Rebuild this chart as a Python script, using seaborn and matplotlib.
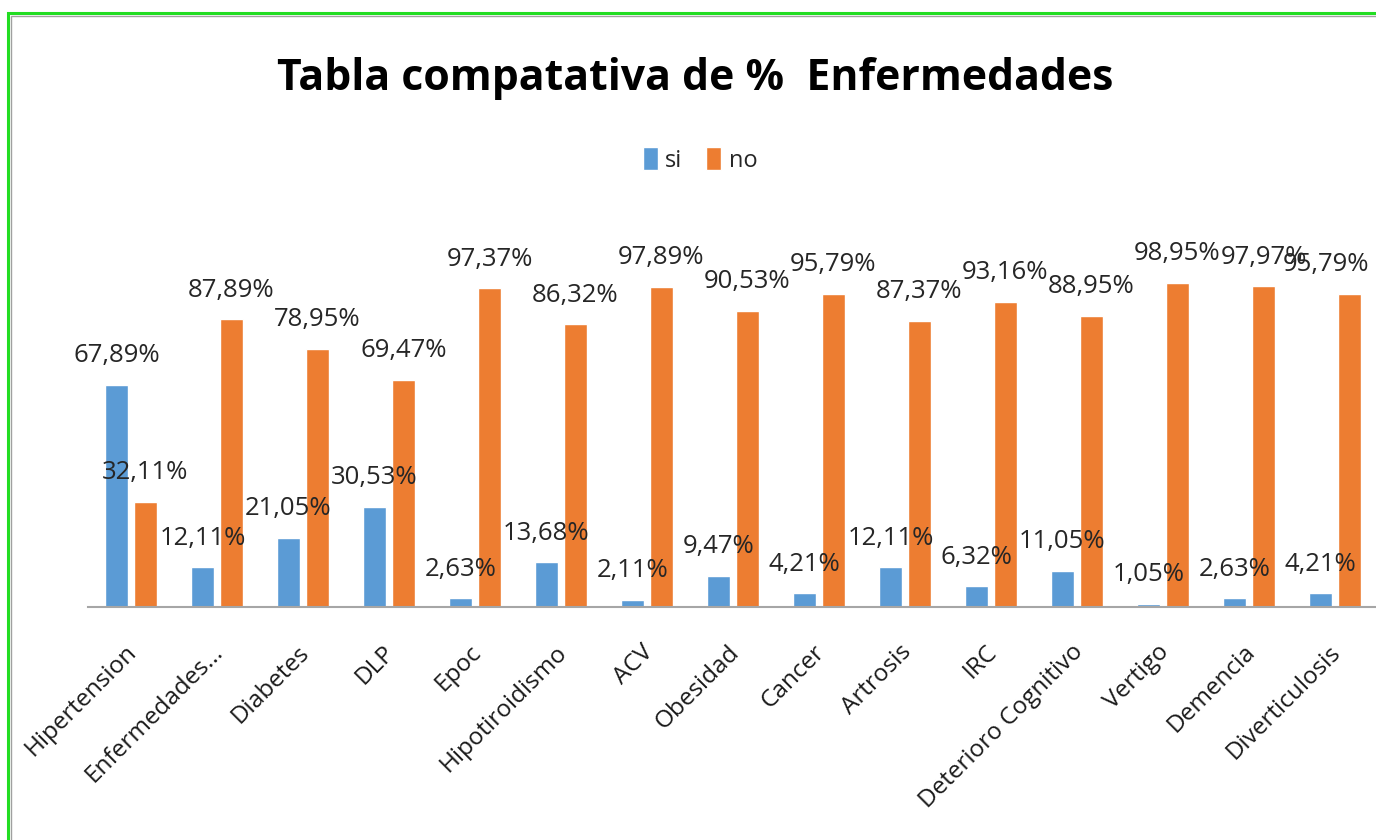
import pandas as pd
import matplotlib
matplotlib.use("Agg")
import matplotlib.pyplot as plt
import seaborn as sns
from matplotlib.patches import Rectangle, Patch
from matplotlib.transforms import ScaledTranslation

# datos del grafico (porcentajes)
enfermedades = [
    "Hipertension", "Enfermedades...", "Diabetes", "DLP", "Epoc",
    "Hipotiroidismo", "ACV", "Obesidad", "Cancer", "Artrosis", "IRC",
    "Deterioro Cognitivo", "Vertigo", "Demencia", "Diverticulosis",
]
si = [67.89, 12.11, 21.05, 30.53, 2.63, 13.68, 2.11, 9.47, 4.21, 12.11,
      6.32, 11.05, 1.05, 2.63, 4.21]
no = [32.11, 87.89, 78.95, 69.47, 97.37, 86.32, 97.89, 90.53, 95.79, 87.37,
      93.16, 88.95, 98.95, 97.97, 95.79]
series = ["si", "no"]
colores = ["#5B9BD5", "#ED7D31"]

df = pd.DataFrame({
    "Enfermedad": enfermedades * 2,
    "Serie": ["si"] * len(si) + ["no"] * len(no),
    "Valor": si + no,
})

sns.set_theme(style="white")
plt.rcParams["font.family"] = ["Open Sans", "DejaVu Sans"]

fig = plt.figure(figsize=(13.76, 8.4), dpi=100)
W, H = 1376, 840

# borde verde + linea gris interior
fig.patches.append(Rectangle((8 / W, -0.1), 1.2, 1 - 13 / H + 0.1,
                             transform=fig.transFigure, fill=False,
                             edgecolor="#22DD22", linewidth=2.2))
fig.patches.append(Rectangle((11.5 / W, -0.1), 1.2, 1 - 16 / H + 0.1,
                             transform=fig.transFigure, fill=False,
                             edgecolor="#A0A0A0", linewidth=1.0))

ax = fig.add_axes([88 / W, 233 / H, 1290 / W, 360 / H])
sns.barplot(data=df, x="Enfermedad", y="Valor", hue="Serie",
            hue_order=series, palette=colores, width=0.674, gap=0.2,
            saturation=1, ax=ax, legend=False)

ax.set_ylim(0, 110)
ax.set_xlim(-0.5, len(enfermedades) - 0.5)

for i, cont in enumerate(ax.containers):
    etiquetas = [f"{b.get_height():.2f}%".replace(".", ",") for b in cont]
    anns = ax.bar_label(cont, labels=etiquetas, padding=12, fontsize=18.5,
                        color="#262626")
    if i == 1:
        # la ultima etiqueta se desplaza para caber en el grafico
        anns[-1].xyann = (-17, anns[-1].xyann[1])

ax.set_xlabel("")
ax.set_ylabel("")
ax.set_yticks([])
ax.tick_params(axis="x", length=0, pad=24)
plt.setp(ax.get_xticklabels(), rotation=45, ha="right",
         rotation_mode="anchor", fontsize=17.5, color="#1a1a1a")
for lab in ax.get_xticklabels():
    lab.set_transform(lab.get_transform()
                      + ScaledTranslation(-6 / 100, 0, fig.dpi_scale_trans))
for s in ["top", "right", "left"]:
    ax.spines[s].set_visible(False)
ax.spines["bottom"].set_color("#A6A6A6")
ax.spines["bottom"].set_linewidth(1.5)

# leyenda
handles = [Patch(facecolor=c, label=s) for c, s in zip(colores, series)]
fig.legend(handles=handles, loc="center", bbox_to_anchor=(700 / W, 1 - 160 / H),
           ncol=2, frameon=False, fontsize=17, handlelength=0.65,
           handleheight=1.1, handletextpad=0.3, columnspacing=1.0)

fig.text(695 / W, 1 - 78 / H, "Tabla compatativa de %  Enfermedades",
         ha="center", va="center", fontsize=30.8, fontweight="bold",
         color="black")

fig.savefig("out.png", dpi=100)
